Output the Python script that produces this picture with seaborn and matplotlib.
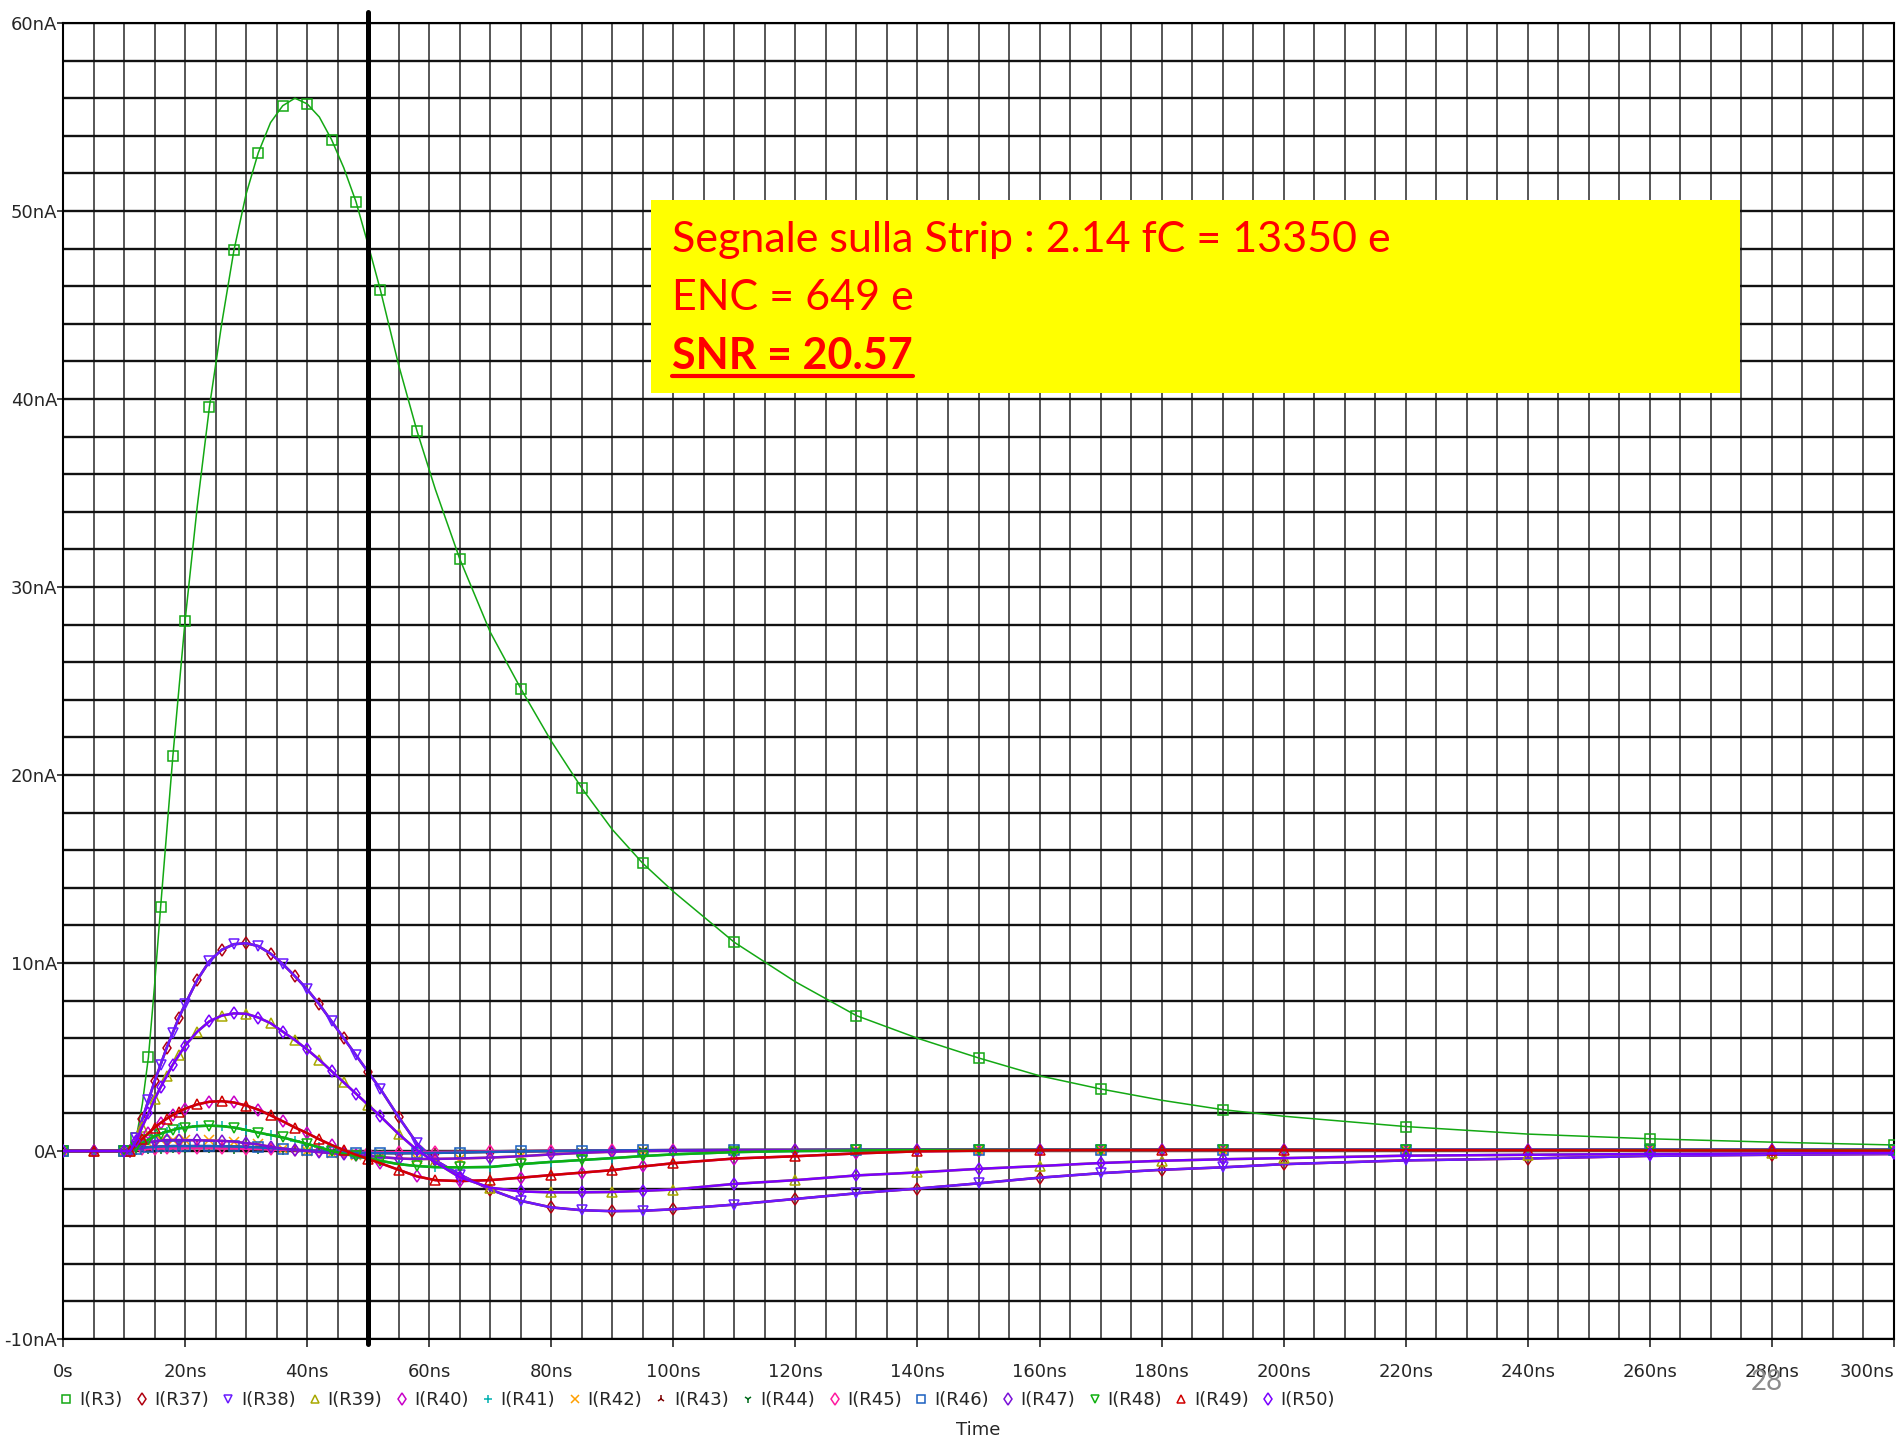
#!/bin/env python
# PSpice transient: strip currents I(R3), I(R37)..I(R50) vs time

import matplotlib
matplotlib.use("Agg")
import numpy as np
import matplotlib.pyplot as plt
from matplotlib.lines import Line2D
from matplotlib.patches import Rectangle
import seaborn as sns

# time axis (ns), shared by every trace
time_ns = [0, 5, 10, 11, 12, 13, 14, 15, 16, 17, 18, 19, 20, 22, 24, 26, 28, 30, 32, 34,
           36, 38, 40, 42, 44, 46, 48, 50, 52, 55, 58, 61, 65, 70, 75, 80, 85, 90, 95, 100,
           110, 120, 130, 140, 150, 160, 170, 180, 190, 200, 220, 240, 260, 280, 300]

# currents in nA
i_r3 = [0, 0, 0, 0, 0.7, 2.5, 5.0, 8.8, 13.0, 17.0, 21.0, 24.6, 28.2, 34.3, 39.6, 44.0, 47.9, 50.9, 53.1, 54.7,
        55.6, 56.0, 55.7, 55.0, 53.8, 52.3, 50.5, 48.2, 45.8, 41.8, 38.3, 35.2, 31.5, 27.6, 24.6, 21.8, 19.3, 17.1, 15.3, 13.8,
        11.1, 9.0, 7.2, 6.0, 4.95, 4.0, 3.3, 2.7, 2.2, 1.85, 1.3, 0.9, 0.65, 0.47, 0.32]
# neighbouring strips come in pairs with (nearly) the same trace
i_r37_r38 = [0, 0, 0, 0, 0.7, 1.7, 2.7, 3.7, 4.6, 5.5, 6.3, 7.1, 7.8, 9.1, 10.1, 10.7, 11.0, 11.05, 10.9, 10.5,
             9.95, 9.3, 8.6, 7.8, 6.9, 6.0, 5.1, 4.2, 3.3, 1.8, 0.4, -0.5, -1.25, -2.05, -2.65, -3.0, -3.15, -3.2, -3.18, -3.1,
             -2.85, -2.55, -2.25, -2.0, -1.72, -1.42, -1.18, -1.0, -0.87, -0.7, -0.5, -0.4, -0.26, -0.2, -0.16]
i_r39_r50 = [0, 0, 0, 0, 0.55, 1.3, 2.0, 2.75, 3.4, 4.0, 4.6, 5.1, 5.6, 6.35, 6.9, 7.2, 7.32, 7.3, 7.1, 6.8,
             6.35, 5.9, 5.4, 4.85, 4.25, 3.65, 3.05, 2.45, 1.85, 0.9, 0.05, -0.6, -1.4, -1.95, -2.15, -2.2, -2.2, -2.18, -2.12, -2.05,
             -1.75, -1.55, -1.3, -1.14, -0.95, -0.8, -0.64, -0.52, -0.44, -0.38, -0.25, -0.2, -0.16, -0.13, -0.11]
i_r40_r49 = [0, 0, 0, 0, 0.3, 0.65, 0.95, 1.25, 1.5, 1.72, 1.92, 2.1, 2.25, 2.48, 2.62, 2.65, 2.58, 2.42, 2.2, 1.9,
             1.58, 1.25, 0.95, 0.62, 0.32, 0.05, -0.2, -0.42, -0.65, -1.0, -1.35, -1.55, -1.6, -1.55, -1.42, -1.28, -1.15, -1.02, -0.82, -0.65,
             -0.4, -0.28, -0.13, -0.02, 0.02, 0.04, 0.05, 0.05, 0.05, 0.05, 0.04, 0.04, 0.03, 0.03, 0.02]
i_r41_r48 = [0, 0, 0, 0, 0.2, 0.42, 0.6, 0.78, 0.92, 1.03, 1.12, 1.2, 1.25, 1.32, 1.35, 1.32, 1.25, 1.12, 0.98, 0.85,
             0.72, 0.55, 0.38, 0.2, 0.0, -0.15, -0.28, -0.38, -0.52, -0.7, -0.8, -0.86, -0.87, -0.85, -0.7, -0.58, -0.48, -0.38, -0.27, -0.18,
             -0.06, 0.0, 0.03, 0.05, 0.05, 0.05, 0.05, 0.05, 0.05, 0.05, 0.04, 0.04, 0.04, 0.04, 0.04]
i_r42_r47 = [0, 0, 0, 0, 0.2, 0.35, 0.45, 0.52, 0.56, 0.58, 0.58, 0.58, 0.58, 0.57, 0.56, 0.54, 0.5, 0.42, 0.35, 0.22,
             0.13, 0.06, 0.0, -0.06, -0.12, -0.17, -0.21, -0.26, -0.32, -0.4, -0.43, -0.42, -0.4, -0.35, -0.28, -0.18, -0.1, -0.04, 0.0, 0.02,
             0.04, 0.05, 0.05, 0.05, 0.05, 0.05, 0.05, 0.05, 0.05, 0.05, 0.05, 0.05, 0.05, 0.05, 0.05]
i_r43_r46 = [0, 0, 0, 0, 0.1, 0.16, 0.2, 0.22, 0.24, 0.25, 0.26, 0.26, 0.26, 0.26, 0.26, 0.25, 0.24, 0.22, 0.19, 0.15,
             0.11, 0.07, 0.03, 0.0, -0.03, -0.06, -0.08, -0.1, -0.11, -0.12, -0.11, -0.1, -0.08, -0.05, -0.02, 0.0, 0.02, 0.03, 0.04, 0.05,
             0.06, 0.06, 0.07, 0.07, 0.07, 0.07, 0.07, 0.07, 0.07, 0.07, 0.07, 0.07, 0.07, 0.07, 0.07]
i_r44_r45 = [0, 0, 0, 0, 0.05, 0.08, 0.1, 0.12, 0.13, 0.14, 0.14, 0.15, 0.15, 0.15, 0.15, 0.14, 0.13, 0.12, 0.1, 0.08,
             0.06, 0.04, 0.02, 0.0, -0.02, -0.03, -0.04, -0.05, -0.06, -0.06, -0.06, -0.05, -0.04, -0.02, 0.0, 0.01, 0.02, 0.03, 0.04, 0.04,
             0.04, 0.04, 0.04, 0.04, 0.04, 0.04, 0.04, 0.04, 0.04, 0.04, 0.04, 0.04, 0.04, 0.04, 0.04]

labels = ["I(R3)", "I(R37)", "I(R38)", "I(R39)", "I(R40)", "I(R41)", "I(R42)", "I(R43)",
          "I(R44)", "I(R45)", "I(R46)", "I(R47)", "I(R48)", "I(R49)", "I(R50)"]
traces = [i_r3, i_r37_r38, i_r37_r38, i_r39_r50, i_r40_r49, i_r41_r48, i_r42_r47, i_r43_r46,
          i_r44_r45, i_r44_r45, i_r43_r46, i_r42_r47, i_r41_r48, i_r40_r49, i_r39_r50]
colors = ["#13a813", "#b00010", "#6a1aff", "#a8a800", "#c800c8", "#00b0b0", "#ffa000", "#7a0000",
          "#006a1a", "#ff1aa0", "#1a5fc0", "#7a10d8", "#10b010", "#d00000", "#7a00ff"]
markers = ["s", "d", "v", "^", "d", "+", "x", "2", "1", "d", "s", "d", "v", "^", "d"]


sns.set_style("white")
plt.rcParams["font.family"] = ["DejaVu Sans"]

fig = plt.figure(figsize=(18.98, 14.42), dpi=100)
ax = fig.add_axes([63 / 1898, 1 - 1339 / 1442, 1831 / 1898, 1316 / 1442])

for k, (lab, vals, c, m) in enumerate(zip(labels, traces, colors, markers)):
    lw = 1.1 if k == 0 else 1.8
    sns.lineplot(x=time_ns, y=vals, ax=ax, color=c, lw=lw, marker=m, markersize=6.5,
                 markevery=(k % 2, 2), markerfacecolor="none", markeredgecolor=c,
                 markeredgewidth=1.1, estimator=None, sort=False, legend=False, zorder=3)

# cursor at 50 ns, slightly longer than the plot area
ax.axvline(50, ymin=-0.004, ymax=1.008, color="black", lw=3.6, zorder=5, clip_on=False)

ax.set_xlim(0, 300)
ax.set_ylim(-10, 60)
ax.set_xticks(np.arange(0, 301, 20))
ax.set_xticks(np.arange(0, 301, 5), minor=True)
ax.set_yticks(np.arange(-10, 61, 10))
ax.set_yticks(np.arange(-10, 61, 2), minor=True)
ax.set_xticklabels(["0s"] + [f"{t}ns" for t in range(20, 301, 20)])
ax.set_yticklabels(["-10nA", "0A"] + [f"{v}nA" for v in range(10, 61, 10)])
ax.get_xticklabels()[-1].set_horizontalalignment("right")
ax.xaxis.grid(True, which="both", color="#3a3a3a", lw=1.2)
ax.yaxis.grid(True, which="both", color="#111111", lw=1.7)
ax.set_axisbelow(True)
ax.tick_params(which="minor", length=0)
ax.tick_params(axis="x", which="major", length=6, width=1.2, pad=11, labelsize=13, direction="out", bottom=True)
ax.tick_params(axis="y", which="major", length=4, width=1.2, pad=0, labelsize=13, direction="out", left=True)
ax.set_xlabel("")
ax.set_ylabel("")
for s in ax.spines.values():
    s.set_color("black")
    s.set_linewidth(1.5)

# legend row under the axis, markers only
handles = [Line2D([], [], ls="none", marker=m, color=c, markerfacecolor="none",
                  markeredgecolor=c, markersize=6, markeredgewidth=1.1)
           for c, m in zip(colors, markers)]
fig.legend(handles, labels, loc="center left", bbox_to_anchor=(60 / 1898, 1 - 1400 / 1442),
           ncol=15, frameon=False, fontsize=13, handlelength=0.7, handletextpad=0.35,
           columnspacing=0.72, borderpad=0, borderaxespad=0)
fig.text(978 / 1898, 1 - 1430 / 1442, "Time", ha="center", va="center", fontsize=13)

# yellow note box
fig.add_artist(Rectangle((651 / 1898, 1 - 393 / 1442), 1089 / 1898, 193 / 1442,
                         transform=fig.transFigure, facecolor="#ffff00", edgecolor="none", zorder=6))
note_font = ["Lato", "DejaVu Sans"]
fig.text(672 / 1898, 1 - 240 / 1442, "Segnale sulla Strip : 2.14 fC = 13350 e", color="#ff0000",
         fontsize=31, family=note_font, va="center", zorder=7)
fig.text(672 / 1898, 1 - 298 / 1442, "ENC = 649 e", color="#ff0000",
         fontsize=31, family=note_font, va="center", zorder=7)
snr = fig.text(672 / 1898, 1 - 356 / 1442, "SNR = 20.57", color="#ff0000", fontweight="bold",
               fontsize=31, family=note_font, va="center", zorder=7)
fig.canvas.draw()
bb = snr.get_window_extent().transformed(fig.transFigure.inverted())
fig.add_artist(Line2D([bb.x0, bb.x1], [1 - 376 / 1442] * 2, transform=fig.transFigure,
                      color="#ff0000", lw=3, zorder=7))

# slide page number
fig.text(1767 / 1898, 1 - 1382 / 1442, "28", color="#8c8c8c", fontsize=20,
         ha="center", va="center", family=["Lato", "DejaVu Sans"])

fig.savefig("out.png", dpi=100)
